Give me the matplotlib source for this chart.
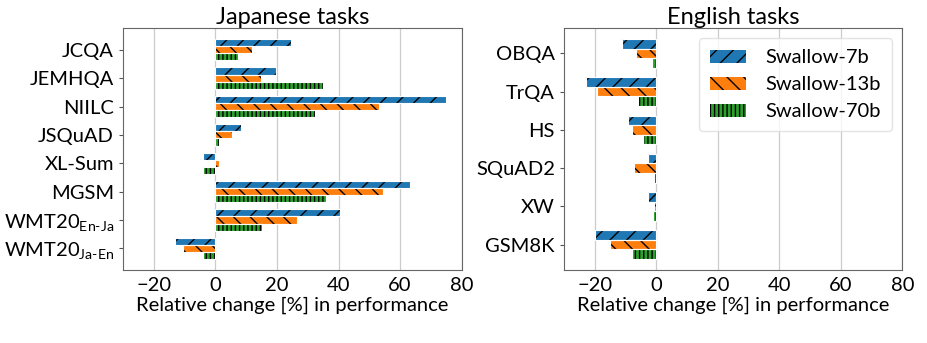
import matplotlib
matplotlib.use("Agg")
import matplotlib.pyplot as plt
import numpy as np

plt.rcParams['font.family'] = ['Lato', 'DejaVu Sans']
plt.rcParams['mathtext.fontset'] = 'custom'
plt.rcParams['mathtext.rm'] = 'Lato'
plt.rcParams['mathtext.it'] = 'Lato'
plt.rcParams['hatch.linewidth'] = 1.0

models = ['Swallow-7b', 'Swallow-13b', 'Swallow-70b']
colors = ['#1f77b4', '#ff7f0e', '#2ca02c']
hatches = ['//', '\\\\', '||||']

ja_tasks = ['JCQA', 'JEMHQA', 'NIILC', 'JSQuAD', 'XL-Sum', 'MGSM',
            r'WMT20$_{\text{En-Ja}}$', r'WMT20$_{\text{Ja-En}}$']
ja_7b = [24.7, 19.7, 74.8, 8.3, -3.9, 63.1, 40.6, -13.0]
ja_13b = [11.9, 14.7, 53.3, 5.4, 1.2, 54.5, 26.6, -10.6]
ja_70b = [7.5, 35.0, 32.3, 1.2, -3.9, 36.0, 15.2, -4.1]

en_tasks = ['OBQA', 'TrQA', 'HS', 'SQuAD2', 'XW', 'GSM8K']
en_7b = [-11.0, -22.7, -9.3, -2.6, -2.6, -19.9]
en_13b = [-6.7, -19.2, -7.8, -7.4, -0.8, -15.2]
en_70b = [-1.3, -5.8, -4.2, -0.8, -1.0, -7.8]

xticks = [-20, 0, 20, 40, 60, 80]

fig = plt.figure(figsize=(9.27, 3.43), dpi=100)
ax1 = fig.add_axes([0.1327, 0.2128, 0.3653, 0.7052])
ax2 = fig.add_axes([0.6084, 0.2128, 0.3650, 0.7052])

fs = 14.5

def draw(ax, tasks, series, title, legend=False):
    y = np.arange(len(tasks))
    h = 0.25
    offs = [-0.25, 0.0, 0.25]
    for vals, c, ht, off, name in zip(series, colors, hatches, offs, models):
        ax.barh(y + off, vals, height=h, facecolor=c, edgecolor='black',
                linewidth=0, hatch=ht, label=name, zorder=2)
        ax.barh(y + off, vals, height=h, fill=False, edgecolor='white',
                linewidth=0.8, zorder=3)
    ax.set_yticks(y)
    ax.set_yticklabels(tasks, fontsize=fs)
    ax.invert_yaxis()
    ax.set_xlim(-30, 80)
    ax.set_xticks(xticks)
    ax.set_xticklabels([f'\u2212{abs(t)}' if t < 0 else str(t) for t in xticks], fontsize=fs)
    ax.tick_params(axis='x', length=0, pad=5)
    ax.tick_params(axis='y', length=3, color='#555555')
    ax.grid(axis='x', color='#cccccc', linewidth=0.9, zorder=0)
    ax.set_axisbelow(True)
    for s in ax.spines.values():
        s.set_color('#666666')
    ax.set_xlabel('Relative change [%] in performance', fontsize=fs, labelpad=2)
    ax.set_title(title, fontsize=17, pad=3)
    if legend:
        ax.legend(loc='upper right', fontsize=fs, handlelength=1.75, handleheight=0.6,
                  labelspacing=0.5, handletextpad=1.0, borderpad=0.55,
                  framealpha=0.8, edgecolor='#dddddd')

draw(ax1, ja_tasks, [ja_7b, ja_13b, ja_70b], 'Japanese tasks')
draw(ax2, en_tasks, [en_7b, en_13b, en_70b], 'English tasks', legend=True)

fig.savefig('out.png', dpi=100)
